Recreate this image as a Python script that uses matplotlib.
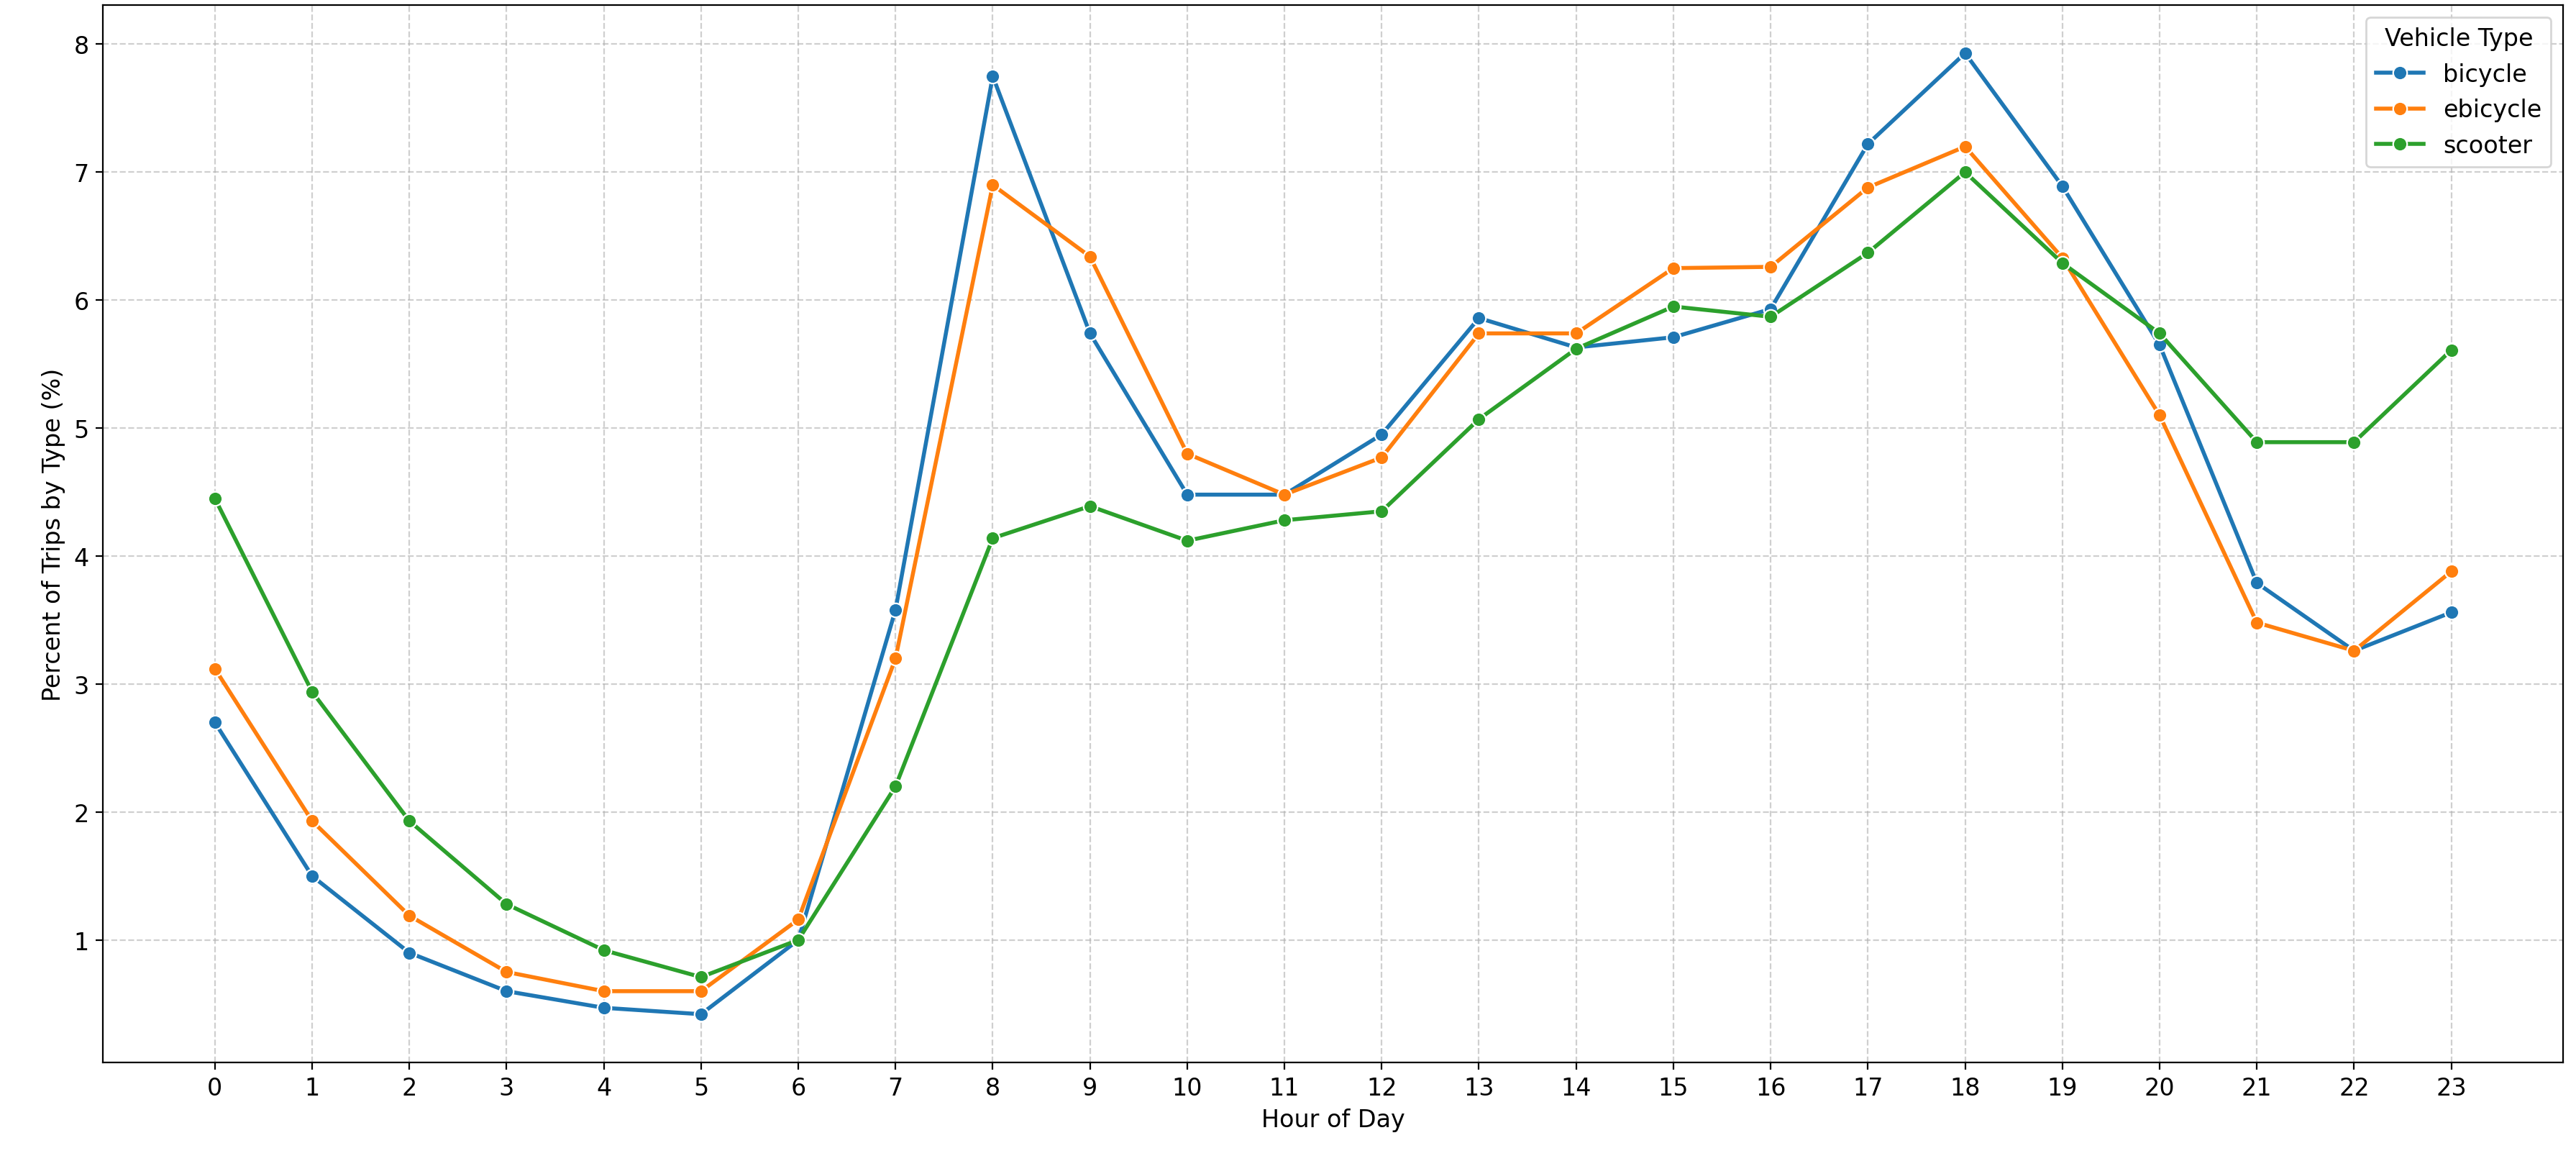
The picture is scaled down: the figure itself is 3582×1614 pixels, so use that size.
import numpy as np
import matplotlib
matplotlib.use("Agg")
import matplotlib.pyplot as plt

hours = list(range(24))
bicycle = [2.70, 1.50, 0.90, 0.60, 0.47, 0.42, 1.00, 3.58, 7.75, 5.74, 4.48, 4.48,
           4.95, 5.86, 5.63, 5.71, 5.93, 7.22, 7.93, 6.89, 5.65, 3.79, 3.26, 3.56]
ebicycle = [3.12, 1.93, 1.19, 0.75, 0.60, 0.60, 1.16, 3.20, 6.90, 6.34, 4.80, 4.48,
            4.77, 5.74, 5.74, 6.25, 6.26, 6.88, 7.20, 6.33, 5.10, 3.48, 3.26, 3.88]
scooter = [4.45, 2.94, 1.93, 1.28, 0.92, 0.71, 1.00, 2.20, 4.14, 4.39, 4.12, 4.28,
           4.35, 5.07, 5.62, 5.95, 5.87, 6.37, 7.00, 6.29, 5.74, 4.89, 4.89, 5.61]

series = {"bicycle": bicycle, "ebicycle": ebicycle, "scooter": scooter}
colors = ["#1f77b4", "#ff7f0e", "#2ca02c"]

fig, ax = plt.subplots(figsize=(17.91, 8.075), dpi=200)
for (name, vals), c in zip(series.items(), colors):
    ax.plot(hours, vals, marker="o", color=c, lw=2, markersize=7,
            markeredgecolor="white", markeredgewidth=0.8, label=name)

ax.set_xticks(hours)
ax.tick_params(labelsize=12)
ax.set_xlabel("Hour of Day", fontsize=12)
ax.set_ylabel("Percent of Trips by Type (%)", fontsize=12)
ax.grid(True, linestyle="--", alpha=0.6)
ax.legend(title="Vehicle Type", fontsize=12, title_fontsize=12, loc="upper right")
fig.subplots_adjust(left=0.04, right=0.995, top=0.995, bottom=0.085)
fig.savefig("out.png")
